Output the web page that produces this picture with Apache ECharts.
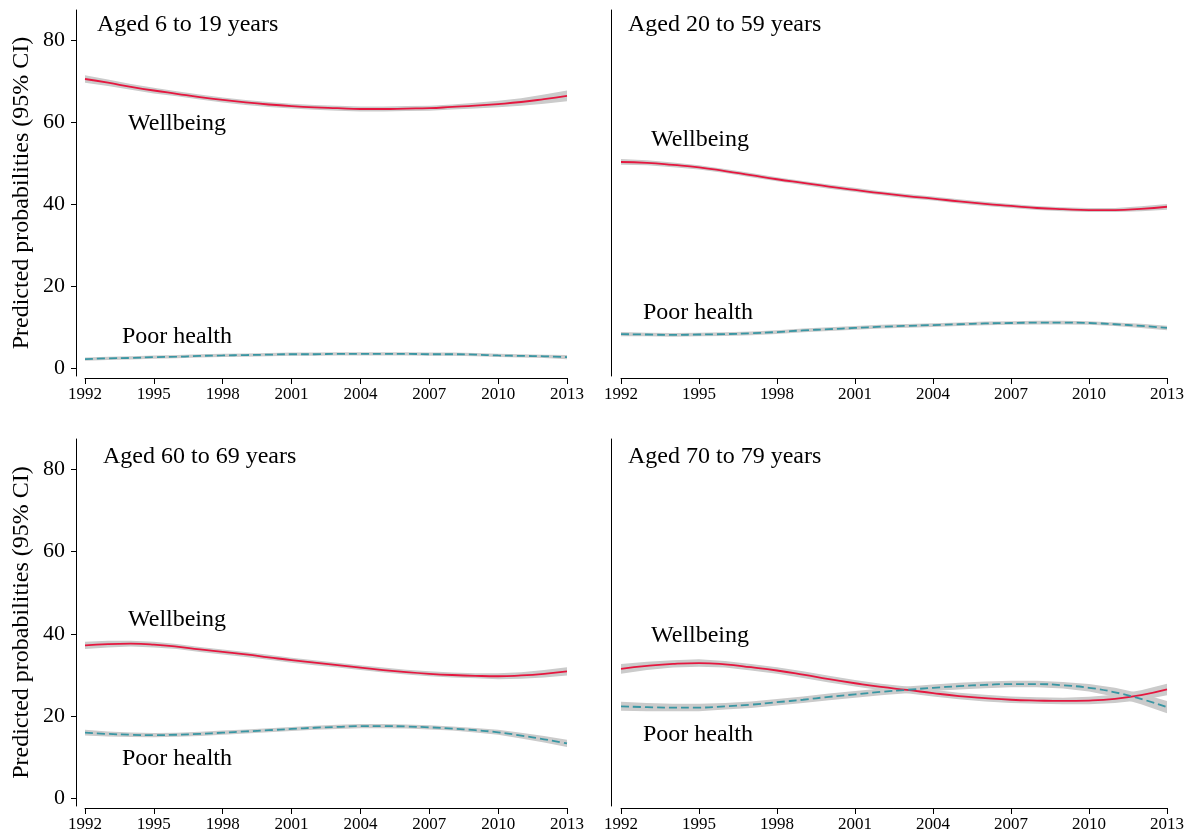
<!DOCTYPE html>
<html>
<head>
<meta charset="utf-8">
<script src="https://cdn.jsdelivr.net/npm/echarts@6/dist/echarts.min.js"></script>
<style>
  html, body { margin: 0; padding: 0; background: #ffffff; }
  #chart { width: 1191px; height: 839px; }
</style>
</head>
<body>
<div id="chart"></div>
<script>
// Survey years on the x axis
const years = [1992, 1993, 1994, 1995, 1996, 1997, 1998, 1999, 2000, 2001, 2002,
               2003, 2004, 2005, 2006, 2007, 2008, 2009, 2010, 2011, 2012, 2013];
const xTicks = [1992, 1995, 1998, 2001, 2004, 2007, 2010, 2013];
const yTicks = [0, 20, 40, 60, 80];

const panelTitles = ['Aged 6 to 19 years', 'Aged 20 to 59 years',
                     'Aged 60 to 69 years', 'Aged 70 to 79 years'];
const outcomeNames = ['Wellbeing', 'Poor health'];
const yAxisTitle = 'Predicted probabilities (95% CI)';

// Predicted probabilities (%) by age group
const wellbeing6to19  = [70.5, 69.6, 68.6, 67.7, 66.9, 66.1, 65.4, 64.8, 64.3, 63.9, 63.6,
                         63.4, 63.2, 63.2, 63.3, 63.4, 63.7, 64.0, 64.4, 64.9, 65.6, 66.4];
const poorHealth6to19 = [2.3, 2.5, 2.6, 2.8, 2.9, 3.1, 3.2, 3.3, 3.4, 3.5, 3.5,
                         3.6, 3.6, 3.6, 3.6, 3.5, 3.5, 3.4, 3.2, 3.1, 3.0, 2.8];
const wellbeing20to59  = [50.3, 50.1, 49.6, 49.0, 48.1, 47.1, 46.1, 45.2, 44.3, 43.5, 42.7,
                          42.0, 41.4, 40.7, 40.1, 39.6, 39.1, 38.8, 38.6, 38.6, 38.9, 39.4];
const poorHealth20to59 = [8.4, 8.3, 8.2, 8.3, 8.4, 8.6, 8.9, 9.3, 9.6, 9.9, 10.2,
                          10.4, 10.6, 10.8, 11.0, 11.1, 11.2, 11.2, 11.1, 10.8, 10.4, 9.9];
const wellbeing60to69  = [37.2, 37.5, 37.6, 37.4, 36.9, 36.2, 35.6, 35.0, 34.3, 33.6, 33.0,
                          32.4, 31.8, 31.2, 30.7, 30.3, 30.0, 29.8, 29.7, 29.9, 30.3, 30.9];
const poorHealth60to69 = [16.0, 15.7, 15.5, 15.4, 15.5, 15.7, 16.0, 16.3, 16.6, 16.9, 17.2,
                          17.4, 17.6, 17.6, 17.5, 17.3, 17.0, 16.6, 16.1, 15.3, 14.4, 13.4];
const wellbeing70to79  = [31.5, 32.2, 32.7, 32.9, 32.6, 31.9, 31.1, 30.1, 29.0, 28.0, 27.1,
                          26.4, 25.6, 24.9, 24.4, 24.0, 23.8, 23.7, 23.8, 24.2, 25.1, 26.5];
const poorHealth70to79 = [22.4, 22.2, 22.1, 22.1, 22.4, 22.8, 23.4, 24.0, 24.7, 25.3, 25.9,
                          26.4, 26.9, 27.3, 27.6, 27.8, 27.8, 27.5, 26.9, 25.8, 24.2, 22.2];

// Half-widths of the 95% confidence intervals (percentage points)
const wellbeingCI6to19  = [0.9, 0.8, 0.7, 0.7, 0.6, 0.6, 0.6, 0.6, 0.6, 0.6, 0.6,
                           0.6, 0.6, 0.6, 0.6, 0.6, 0.6, 0.7, 0.8, 0.9, 1.1, 1.3];
const poorHealthCI6to19 = [0.4, 0.4, 0.4, 0.4, 0.4, 0.4, 0.4, 0.4, 0.4, 0.4, 0.4,
                           0.4, 0.4, 0.4, 0.4, 0.4, 0.4, 0.4, 0.4, 0.4, 0.4, 0.5];
const wellbeingCI20to59  = [0.7, 0.6, 0.6, 0.5, 0.5, 0.5, 0.5, 0.5, 0.5, 0.5, 0.5,
                            0.5, 0.5, 0.5, 0.5, 0.5, 0.5, 0.5, 0.5, 0.5, 0.6, 0.7];
const poorHealthCI20to59 = [0.5, 0.45, 0.45, 0.45, 0.45, 0.45, 0.45, 0.45, 0.45, 0.45, 0.45,
                            0.45, 0.45, 0.45, 0.45, 0.45, 0.45, 0.45, 0.45, 0.45, 0.5, 0.55];
const wellbeingCI60to69  = [0.9, 0.8, 0.7, 0.7, 0.6, 0.6, 0.6, 0.6, 0.6, 0.6, 0.6,
                            0.6, 0.6, 0.6, 0.6, 0.6, 0.6, 0.6, 0.7, 0.8, 0.9, 1.0];
const poorHealthCI60to69 = [0.7, 0.6, 0.55, 0.5, 0.5, 0.5, 0.5, 0.5, 0.5, 0.5, 0.5,
                            0.5, 0.5, 0.5, 0.5, 0.5, 0.5, 0.55, 0.6, 0.7, 0.8, 0.9];
const wellbeingCI70to79  = [1.2, 1.0, 0.9, 0.9, 0.8, 0.8, 0.8, 0.8, 0.8, 0.8, 0.8,
                            0.8, 0.8, 0.8, 0.8, 0.8, 0.8, 0.8, 0.9, 1.0, 1.2, 1.4];
const poorHealthCI70to79 = [1.1, 1.0, 0.9, 0.9, 0.8, 0.8, 0.8, 0.8, 0.8, 0.8, 0.8,
                            0.8, 0.8, 0.8, 0.8, 0.8, 0.8, 0.8, 0.9, 1.1, 1.3, 1.5];

const panelData = [
  { well: wellbeing6to19,  wellCI: wellbeingCI6to19,  poor: poorHealth6to19,  poorCI: poorHealthCI6to19 },
  { well: wellbeing20to59, wellCI: wellbeingCI20to59, poor: poorHealth20to59, poorCI: poorHealthCI20to59 },
  { well: wellbeing60to69, wellCI: wellbeingCI60to69, poor: poorHealth60to69, poorCI: poorHealthCI60to69 },
  { well: wellbeing70to79, wellCI: wellbeingCI70to79, poor: poorHealth70to79, poorCI: poorHealthCI70to79 }
];

// Layout and styling
const FONT = 'Liberation Serif';
const RED = '#e5173f';
const TEAL = '#3996a3';
const BAND = '#cbcbcb';

const gridBoxes = [
  { left: 85,  width: 482, top: 10,  height: 366 },
  { left: 621, width: 546, top: 10,  height: 366 },
  { left: 85,  width: 482, top: 439, height: 367 },
  { left: 621, width: 546, top: 439, height: 367 }
];

// Text annotations: panel titles and outcome labels (pixel anchors)
const titleAnchors = [[97, 25], [628, 25], [103, 457], [628, 457]];
const labelAnchors = [
  { well: [128, 124], poor: [122, 337] },
  { well: [651, 140], poor: [643, 313] },
  { well: [128, 620], poor: [122, 759] },
  { well: [651, 636], poor: [643, 735] }
];

const pairs = vals => years.map((y, i) => [y, vals[i]]);

const grids = [], xAxes = [], yAxes = [], series = [], graphics = [];

// Confidence band drawn as a closed polygon: upper bound forward, lower bound back
function bandSeries(p, vals, ci) {
  return {
    type: 'custom', xAxisIndex: p, yAxisIndex: p, silent: true, z: 1,
    data: pairs(vals),
    renderItem: function (params, api) {
      if (params.dataIndex !== 0) return null;
      const pts = [];
      for (let i = 0; i < years.length; i++) pts.push(api.coord([years[i], vals[i] + ci[i]]));
      for (let i = years.length - 1; i >= 0; i--) pts.push(api.coord([years[i], vals[i] - ci[i]]));
      return { type: 'polygon', shape: { points: pts }, style: { fill: BAND, stroke: null } };
    }
  };
}

gridBoxes.forEach((g, p) => {
  const isLeft = p % 2 === 0;
  grids.push(Object.assign({ containLabel: false }, g));

  xAxes.push({
    gridIndex: p, type: 'value', min: 1992, max: 2013, interval: 3,
    offset: 2,
    axisLine: { show: true, onZero: false, lineStyle: { color: '#000', width: 1 } },
    axisTick: { show: true, length: 6, lineStyle: { color: '#000' }, customValues: xTicks },
    axisLabel: {
      color: '#000', fontFamily: FONT, fontSize: 17, margin: 8, customValues: xTicks,
      formatter: v => String(v)
    },
    splitLine: { show: false }
  });

  yAxes.push({
    gridIndex: p, type: 'value', min: -1.8, max: 87.3,
    offset: isLeft ? 9 : 10,
    name: isLeft ? yAxisTitle : '',
    nameLocation: 'middle', nameGap: 42, nameRotate: 90,
    nameTextStyle: { color: '#000', fontFamily: FONT, fontSize: 24 },
    axisLine: { show: true, onZero: false, lineStyle: { color: '#000', width: 1 } },
    axisTick: { show: isLeft, length: 5, lineStyle: { color: '#000' }, customValues: yTicks },
    axisLabel: { show: isLeft, color: '#000', fontFamily: FONT, fontSize: 22, margin: 11, customValues: yTicks },
    splitLine: { show: false }
  });

  const d = panelData[p];
  series.push(bandSeries(p, d.well, d.wellCI));
  series.push(bandSeries(p, d.poor, d.poorCI));

  series.push({
    name: outcomeNames[0], type: 'line', xAxisIndex: p, yAxisIndex: p, smooth: true,
    symbol: 'none', z: 3, lineStyle: { color: RED, width: 1.8 }, data: pairs(d.well)
  });
  series.push({
    name: outcomeNames[1], type: 'line', xAxisIndex: p, yAxisIndex: p, smooth: true,
    symbol: 'none', z: 3, lineStyle: { color: TEAL, width: 1.8, type: [8, 4] }, data: pairs(d.poor)
  });

  const textItem = (txt, at) => ({
    type: 'text', x: at[0], y: at[1],
    style: { text: txt, fill: '#000', font: '24px "' + FONT + '"', textVerticalAlign: 'middle' }
  });
  graphics.push(textItem(panelTitles[p], titleAnchors[p]));
  graphics.push(textItem(outcomeNames[0], labelAnchors[p].well));
  graphics.push(textItem(outcomeNames[1], labelAnchors[p].poor));
});

const chart = echarts.init(document.getElementById('chart'), null, { renderer: 'canvas' });
chart.setOption({
  animation: false,
  backgroundColor: '#ffffff',
  textStyle: { fontFamily: FONT },
  grid: grids,
  xAxis: xAxes,
  yAxis: yAxes,
  series: series,
  graphic: graphics
});
</script>
</body>
</html>
